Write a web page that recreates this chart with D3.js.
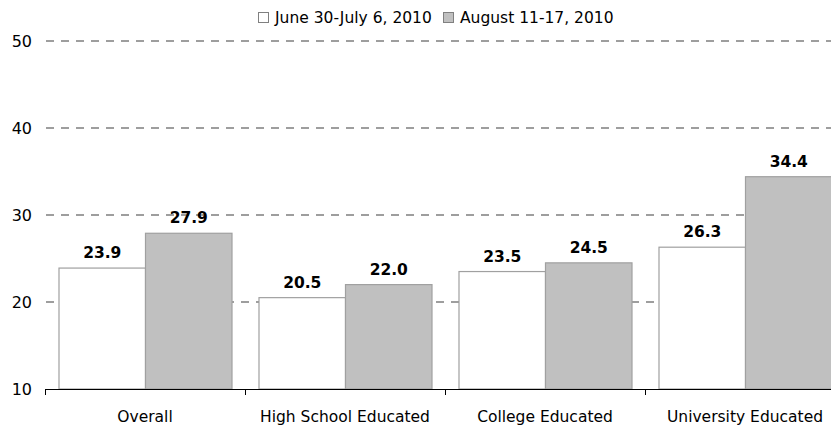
<!DOCTYPE html>
<html><head><meta charset="utf-8">
<script src="https://cdn.jsdelivr.net/npm/d3@7"></script>
<style>body{margin:0;background:#fff;} text{font-family:"DejaVu Sans",sans-serif;}</style>
</head><body>
<svg id="c" width="831" height="428"></svg>
<script>
const categories = ["Overall", "High School Educated", "College Educated", "University Educated"];
const seriesNames = ["June 30-July 6, 2010", "August 11-17, 2010"];
const june = [23.9, 20.5, 23.5, 26.3];
const august = [27.9, 22.0, 24.5, 34.4];
const yTicks = [10, 20, 30, 40, 50];
const colors = ["#ffffff", "#c0c0c0"];

const svg = d3.select("#c");
const y = d3.scaleLinear().domain([10, 50]).range([389, 41]);
const x = d3.scaleBand().domain(categories).range([45, 845]).paddingInner(0).paddingOuter(0);
const xs = d3.scaleBand().domain(seriesNames).range([14, 200 - 13]);

// grid
svg.append("g").selectAll("line").data(yTicks.filter(d => d > 10)).join("line")
  .attr("x1", 46).attr("x2", 831).attr("y1", d => Math.round(y(d))).attr("y2", d => Math.round(y(d)))
  .attr("stroke", "#7f7f7f").attr("stroke-width", 1.5).attr("stroke-dasharray", "8,7");

// y labels
svg.append("g").selectAll("text").data(yTicks).join("text")
  .attr("x", 32).attr("y", d => y(d) + 6).attr("text-anchor", "end")
  .attr("font-size", 16).attr("fill", "#000").text(d => d);

// bars
const data = [june, august];
const g = svg.append("g");
data.forEach((vals, si) => {
  g.selectAll(".b" + si).data(vals).join("rect")
    .attr("x", (d, i) => x(categories[i]) + xs(seriesNames[si]))
    .attr("width", xs.bandwidth())
    .attr("y", d => y(d)).attr("height", d => y(10) - y(d))
    .attr("fill", colors[si]).attr("stroke", "#a0a0a0").attr("stroke-width", 1.2);
});
data.forEach((vals, si) => {
  g.selectAll(".l" + si).data(vals).join("text")
    .attr("x", (d, i) => x(categories[i]) + xs(seriesNames[si]) + xs.bandwidth() / 2)
    .attr("y", d => y(d) - 10).attr("text-anchor", "middle")
    .attr("font-size", 15.5).attr("font-weight", "bold").text(d => d.toFixed(1));
});

// x axis
svg.append("line").attr("x1", 45).attr("x2", 831).attr("y1", 389.5).attr("y2", 389.5).attr("stroke", "#000");
svg.append("g").selectAll("line").data(categories).join("line")
  .attr("x1", d => x(d) + 0.5).attr("x2", d => x(d) + 0.5).attr("y1", 389).attr("y2", 395).attr("stroke", "#000");
svg.append("g").selectAll("text").data(categories).join("text")
  .attr("x", d => x(d) + x.bandwidth() / 2).attr("y", 422).attr("text-anchor", "middle")
  .attr("font-size", 15.5).text(d => d);

// legend
const leg = [{x: 258, t: seriesNames[0], c: colors[0]}, {x: 443, t: seriesNames[1], c: colors[1]}];
const lg = svg.append("g");
leg.forEach(l => {
  lg.append("rect").attr("x", l.x + 0.5).attr("y", 12.5).attr("width", 10).attr("height", 10)
    .attr("fill", l.c).attr("stroke", "#808080");
  lg.append("text").attr("x", l.x + 17).attr("y", 23).attr("font-size", 15.5).text(l.t);
});
</script>
</body></html>
